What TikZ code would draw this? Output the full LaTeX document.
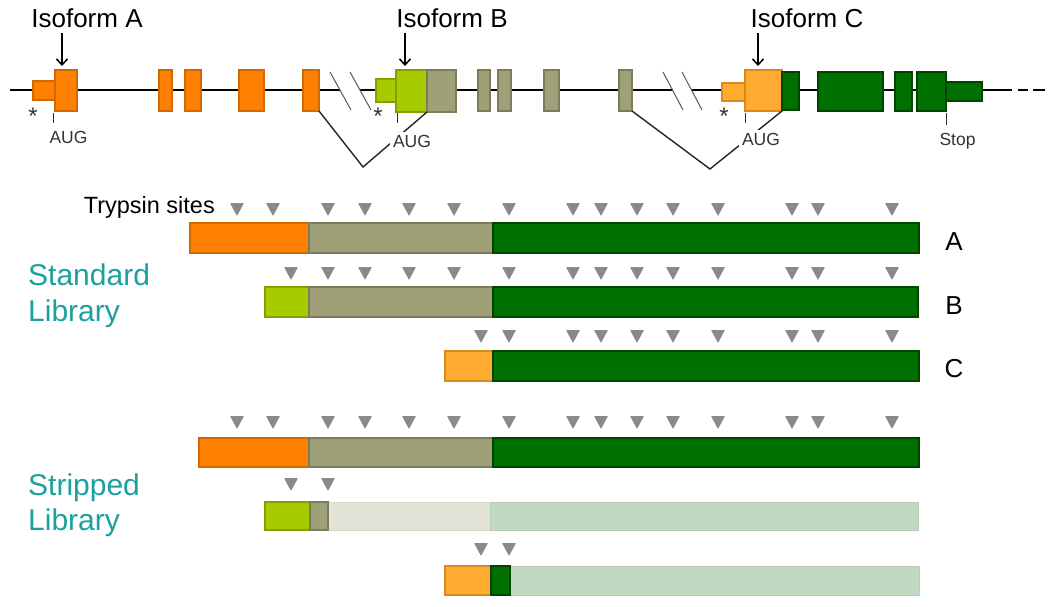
\documentclass[tikz,border=0pt]{standalone}
\usepackage{fontspec}
\setmainfont{Liberation Sans}
\usetikzlibrary{arrows.meta}
\definecolor{orF}{HTML}{FF7F00}\definecolor{orD}{HTML}{D06A00}
\definecolor{liF}{HTML}{A6CC00}\definecolor{liD}{HTML}{83A000}
\definecolor{olF}{HTML}{A0A078}\definecolor{olD}{HTML}{7C7C5C}
\definecolor{grF}{HTML}{007000}\definecolor{grD}{HTML}{004400}
\definecolor{amF}{HTML}{FFAA30}\definecolor{amD}{HTML}{D98A1A}
\definecolor{foF}{HTML}{E3E4D8}\definecolor{fgF}{HTML}{C1D8C1}
\definecolor{tealc}{HTML}{1BA0A0}
\definecolor{trig}{HTML}{8A8A8A}
\definecolor{darktxt}{HTML}{333333}
\newcommand{\exonbox}[6]{\node[#6, minimum width={#4-#2}, minimum height={#5-#3}] (#1) at ({(#2+#4)/2},{(#3+#5)/2}) {};}
\newcommand{\trirow}[2]{\foreach \tx in {#2} {\fill[trig, rounded corners=0.6pt] (\tx-7,#1) -- (\tx+7,#1) -- (\tx,#1+13) -- cycle;}}
\begin{document}
\begin{tikzpicture}[x=1pt,y=-1pt,
  bx/.style={rectangle, inner sep=0pt, outer sep=0pt, line width=1.2pt},
  orb/.style={bx, fill=orF, draw=orD},
  lib/.style={bx, fill=liF, draw=liD},
  olb/.style={bx, fill=olF, draw=olD},
  grb/.style={bx, fill=grF, draw=grD},
  amb/.style={bx, fill=amF, draw=amD},
  fob/.style={bx, fill=foF, draw=foF!95!black, line width=0.6pt},
  fgb/.style={bx, fill=fgF, draw=fgF!95!black, line width=0.6pt},
  mainline/.style={line width=2pt, black},
  slash/.style={line width=1pt, black!65},
  splice/.style={line width=1.4pt, black!85},
  tick/.style={line width=1pt, darktxt},
  small/.style={font=\fontsize{17.5}{20}\selectfont, text=darktxt},
  startxt/.style={font=\fontsize{24}{26}\selectfont, text=darktxt, inner sep=0pt},
  iso/.style={font=\fontsize{26}{30}\selectfont, inner sep=0pt},
  lbl/.style={font=\fontsize{26}{30}\selectfont, inner sep=0pt},
  libtext/.style={font=\fontsize{30}{34}\selectfont, text=tealc, inner sep=0pt},
  arr/.style={line width=1.5pt, -{Straight Barb[length=6pt,width=11pt]}, shorten >=4pt}
]
\useasboundingbox (0,0) rectangle (1050,606);
\fill[white] (0,0) rectangle (1050,606);

% ---------- gene structure ----------
\draw[mainline] (10,90) -- (340,90);
\draw[mainline] (360,90) -- (673,90);
\draw[mainline] (692,90) -- (1012,90);
\draw[mainline] (1018,90) -- (1028,90);
\draw[mainline] (1033,90) -- (1045,90);
\draw[slash] (330,72) -- (351,110);
\draw[slash] (350,72) -- (371,110);
\draw[slash] (663,72) -- (683,110);
\draw[slash] (682,72) -- (702,110);

% isoform A exons
\exonbox{As}{33}{81}{55}{100}{orb}
\exonbox{Ab}{55}{70}{77}{111}{orb}
\exonbox{A2}{159}{70}{172}{111}{orb}
\exonbox{A3}{185}{70}{201}{111}{orb}
\exonbox{A4}{239}{70}{264}{111}{orb}
\exonbox{A5}{303}{70}{319}{111}{orb}
% isoform B exons
\exonbox{Bs}{376}{79}{396}{102}{lib}
\exonbox{Bb}{396}{70}{427}{112}{lib}
\exonbox{B1}{427}{70}{456}{112}{olb}
\exonbox{B2}{478}{70}{490}{111}{olb}
\exonbox{B3}{498}{70}{511}{111}{olb}
\exonbox{B4}{544}{70}{559}{111}{olb}
\exonbox{B5}{619}{70}{632}{111}{olb}
% isoform C exons
\exonbox{Cs}{722}{83}{745}{101}{amb}
\exonbox{Cb}{745}{70}{782}{111}{amb}
\exonbox{C1}{782}{72}{799}{110}{grb}
\exonbox{C2}{818}{72}{883}{111}{grb}
\exonbox{C3}{895}{72}{912}{111}{grb}
\exonbox{C4}{917}{72}{946}{111}{grb}
\exonbox{C5}{946}{82}{982}{101}{grb}

% splice connectors
\coordinate (v1) at (363,167);
\coordinate (v2) at (710,169);
\draw[splice] (A5.south east) -- (v1) -- (Bb.south east);
\draw[splice] (B5.south east) -- (v2) -- (Cb.south east);

% labels and arrows
\node[iso, anchor=base] (isoA) at (87,27) {Isoform A};
\node[iso, anchor=base] (isoB) at (452,27) {Isoform B};
\node[iso, anchor=base] (isoC) at (807,27) {Isoform C};
\coordinate (aA) at (62,33);
\coordinate (aB) at (405,33);
\coordinate (aC) at (758,33);
\draw[arr] (aA) -- (aA |- Ab.north);
\draw[arr] (aB) -- (aB |- Bb.north);
\draw[arr] (aC) -- (aC |- Cb.north);

\node[startxt, anchor=north] (stA) at (33,108) {*};
\node[startxt, anchor=north] (stB) at (378,108) {*};
\node[startxt, anchor=north] (stC) at (724,108) {*};

\draw[tick] (53,113) -- (53,123);
\draw[tick] (397,113) -- (397,123);
\draw[tick] (745,113) -- (745,123);
\draw[tick] (946,113) -- (946,125);
\node[small, anchor=base, fill=white, inner sep=3pt] (augA) at (68.5,143) {AUG};
\node[small, anchor=base, fill=white, inner sep=3pt] (augB) at (412,147) {AUG};
\node[small, anchor=base, fill=white, inner sep=3pt] (augC) at (761,145) {AUG};
\node[small, anchor=base, inner sep=3pt] (stop) at (957.5,145) {Stop};

% ---------- libraries ----------
\node[font=\fontsize{23.5}{26}\selectfont, anchor=base east, inner sep=0pt] (tryp) at (215,213) {Trypsin sites};
\node[libtext, anchor=base west] (std1) at (28,285) {Standard};
\node[libtext, anchor=base west] (std2) at (28,321) {Library};
\node[libtext, anchor=base west] (str1) at (28,495) {Stripped};
\node[libtext, anchor=base west] (str2) at (28,530) {Library};
\node[lbl, anchor=base] (labA) at (954,250) {A};
\node[lbl, anchor=base] (labB) at (954,314) {B};
\node[lbl, anchor=base] (labC) at (954,377) {C};

% standard bars
\exonbox{SA1}{190}{223}{309}{253}{orb}
\exonbox{SA2}{309}{223}{493}{253}{olb}
\exonbox{SA3}{493}{223}{919}{253}{grb}
\exonbox{SB1}{265}{287}{309}{317}{lib}
\exonbox{SB2}{309}{287}{493}{317}{olb}
\exonbox{SB3}{493}{287}{918}{317}{grb}
\exonbox{SC1}{445}{351}{493}{381}{amb}
\exonbox{SC2}{493}{351}{919}{381}{grb}
% stripped bars
\exonbox{TA1}{199}{438}{309}{467}{orb}
\exonbox{TA2}{309}{438}{493}{467}{olb}
\exonbox{TA3}{493}{438}{919}{467}{grb}
\exonbox{TB3}{328}{502}{490}{530}{fob}
\exonbox{TB4}{490}{502}{918}{530}{fgb}
\exonbox{TB1}{265}{502}{310}{530}{lib}
\exonbox{TB2}{310}{502}{328}{530}{olb}
\exonbox{TC3}{510}{566}{919}{595}{fgb}
\exonbox{TC1}{445}{566}{491}{595}{amb}
\exonbox{TC2}{491}{566}{510}{595}{grb}

% trypsin sites
\trirow{203}{237,273,328,365,409,454,509,573,601,637,673,718,792,818,892}
\trirow{267}{291,328,365,409,454,509,573,601,637,673,718,792,818,892}
\trirow{330}{481,509,573,601,637,673,718,792,818,892}
\trirow{416}{237,273,328,365,409,454,509,573,601,637,673,718,792,818,892}
\trirow{478}{291,328}
\trirow{543}{481,509}
\end{tikzpicture}
\end{document}
